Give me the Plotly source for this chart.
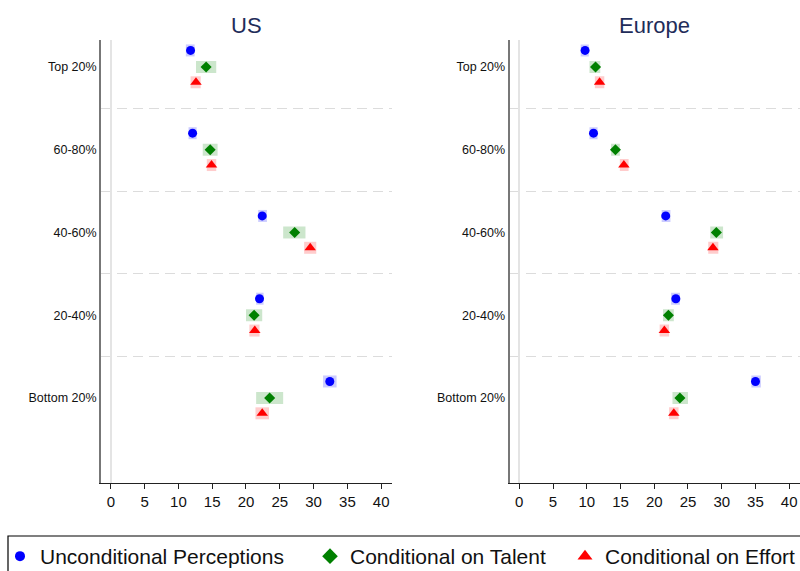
import plotly.graph_objects as go

# Income groups, listed top to bottom
groups = ["Top 20%", "60-80%", "40-60%", "20-40%", "Bottom 20%"]
group_pos = [4, 3, 2, 1, 0]

# US: point estimates and 95% confidence bounds
us_uncond = [11.8, 12.1, 22.4, 22.0, 32.4]
us_uncond_lo = [11.1, 11.5, 21.8, 21.5, 31.4]
us_uncond_hi = [12.4, 12.7, 23.1, 22.6, 33.4]
us_talent = [14.1, 14.7, 27.2, 21.2, 23.5]
us_talent_lo = [12.6, 13.6, 25.5, 20.0, 21.5]
us_talent_hi = [15.6, 15.8, 28.8, 22.4, 25.5]
us_effort = [12.6, 14.9, 29.5, 21.3, 22.4]
us_effort_lo = [11.8, 14.2, 28.6, 20.5, 21.4]
us_effort_hi = [13.3, 15.6, 30.4, 22.0, 23.4]

# Europe: point estimates and 95% confidence bounds
eu_uncond = [9.75, 11.0, 21.7, 23.2, 35.0]
eu_uncond_lo = [9.1, 10.4, 21.1, 22.5, 34.4]
eu_uncond_hi = [10.3, 11.6, 22.4, 23.8, 35.8]
eu_talent = [11.3, 14.25, 29.2, 22.1, 23.8]
eu_talent_lo = [10.4, 13.6, 28.3, 21.3, 22.7]
eu_talent_hi = [12.0, 14.9, 30.2, 22.9, 25.0]
eu_effort = [11.9, 15.5, 28.7, 21.5, 22.9]
eu_effort_lo = [11.2, 14.9, 28.0, 20.8, 22.2]
eu_effort_hi = [12.6, 16.2, 29.5, 22.2, 23.6]

x_ticks = [0, 5, 10, 15, 20, 25, 30, 35, 40]
series_names = ["Unconditional Perceptions", "Conditional on Talent", "Conditional on Effort"]

W, H = 800, 571
BLUE, GREEN, RED = "#0000ff", "#008000", "#ff0000"
CI_COLORS = ["rgba(0,0,255,0.2)", "rgba(0,128,0,0.2)", "rgba(255,0,0,0.2)"]
SYMBOLS = ["circle", "diamond", "triangle-up"]
COLORS = [BLUE, GREEN, RED]
SIZES = [9, 8.5, 10]
OFFSETS = [0.2, 0.0, -0.185]

fig = go.Figure()

panels = [
    ("x", "y", [(us_uncond, us_uncond_lo, us_uncond_hi),
                (us_talent, us_talent_lo, us_talent_hi),
                (us_effort, us_effort_lo, us_effort_hi)]),
    ("x2", "y2", [(eu_uncond, eu_uncond_lo, eu_uncond_hi),
                  (eu_talent, eu_talent_lo, eu_talent_hi),
                  (eu_effort, eu_effort_lo, eu_effort_hi)]),
]

for xa, ya, series in panels:
    for k, (vals, lo, hi) in enumerate(series):
        fig.add_trace(go.Scatter(
            x=vals,
            y=[p + OFFSETS[k] for p in group_pos],
            xaxis=xa, yaxis=ya,
            mode="markers",
            marker=dict(symbol=SYMBOLS[k], color=COLORS[k], size=SIZES[k], line=dict(width=0)),
            error_x=dict(
                type="data", symmetric=False,
                array=[h - v for h, v in zip(hi, vals)],
                arrayminus=[v - l for v, l in zip(vals, lo)],
                color=CI_COLORS[k], thickness=12, width=0,
            ),
            name=series_names[k],
            showlegend=False,
            hoverinfo="skip",
        ))

# Legend entries, one legend box per series so each key sits at its own spot
LEG_SIZES = [10, 12, 13]
LEG_IDS = ["legend", "legend2", "legend3"]
LEG_X = [0, 310, 565]
for k in range(3):
    fig.add_trace(go.Scatter(
        x=[None], y=[None], mode="markers",
        marker=dict(symbol=SYMBOLS[k], color=COLORS[k], size=LEG_SIZES[k], line=dict(width=0)),
        name=series_names[k], showlegend=True, legend=LEG_IDS[k],
    ))

x_common = dict(
    range=[-1.45, 41.6],
    tickvals=x_ticks,
    ticktext=[str(t) for t in x_ticks],
    showline=True, linecolor="#222222", linewidth=1,
    ticks="outside", ticklen=5, tickcolor="#222222", tickwidth=1,
    tickfont=dict(family="Liberation Sans Narrow, Liberation Sans, Arial", size=15, color="#111111"),
    showgrid=False,
    zeroline=True, zerolinecolor="#e4e4e4", zerolinewidth=2,
    fixedrange=True,
)
y_common = dict(
    range=[-1.027, 4.326],
    tickvals=group_pos,
    ticktext=groups,
    tickfont=dict(family="Liberation Sans, Arial", size=12.5, color="#111111"),
    showline=True, linecolor="#777777", linewidth=1.8,
    ticks="",
    showgrid=False,
    zeroline=False,
    minor=dict(tickvals=[0.5, 1.5, 2.5, 3.5], showgrid=True, gridcolor="#dcdcdc",
               gridwidth=1, griddash="10px,6px", ticks=""),
    domain=[1 - 483 / H, 1 - 40 / H],
    fixedrange=True,
)

legend_style = dict(
    orientation="h", y=1 - 536 / H, xanchor="left", yanchor="top",
    borderwidth=0, bgcolor="rgba(0,0,0,0)",
    font=dict(family="Liberation Sans, Arial", size=21, color="#111111"),
    itemclick=False, itemdoubleclick=False,
)

fig.update_layout(
    width=W, height=H,
    margin=dict(l=0, r=0, t=0, b=0, autoexpand=False),
    paper_bgcolor="white", plot_bgcolor="white",
    font=dict(family="Liberation Sans, Arial", color="#111111"),
    xaxis=dict(domain=[101 / W, 392 / W], anchor="y", **x_common),
    xaxis2=dict(domain=[509.5 / W, 1.0], anchor="y2", **x_common),
    yaxis=dict(anchor="x", **y_common),
    yaxis2=dict(anchor="x2", **y_common),
    legend=dict(x=LEG_X[0] / W, **legend_style),
    legend2=dict(x=LEG_X[1] / W, **legend_style),
    legend3=dict(x=LEG_X[2] / W, **legend_style),
    shapes=[
        # frame around the legend keys
        dict(type="rect", xref="paper", yref="paper",
             x0=8 / W, x1=1.02, y0=-0.05, y1=1 - 536 / H,
             line=dict(color="#000000", width=1.2), fillcolor="rgba(0,0,0,0)", layer="below"),
    ],
    annotations=[
        dict(text="US", x=(101 + 392) / 2 / W, y=1 - 25 / H, xref="paper", yref="paper",
             xanchor="center", yanchor="middle", showarrow=False,
             font=dict(family="Liberation Sans, Arial", size=22, color="#1f2d5a")),
        dict(text="Europe", x=(509.5 + 800) / 2 / W, y=1 - 25 / H, xref="paper", yref="paper",
             xanchor="center", yanchor="middle", showarrow=False,
             font=dict(family="Liberation Sans, Arial", size=22, color="#1f2d5a")),
    ],
)

fig.write_html("out.html")
